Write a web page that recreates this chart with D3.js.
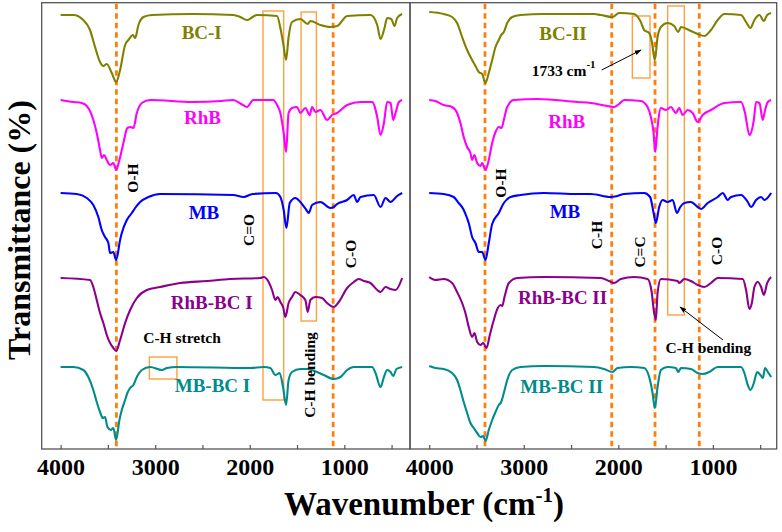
<!DOCTYPE html>
<html><head><meta charset="utf-8">
<script src="https://cdn.jsdelivr.net/npm/d3@7"></script>
<style>body{margin:0;background:#fff}</style>
</head><body>
<svg id="c" width="782" height="532"></svg>
<script>
// ---------- DATA (wavenumber cm-1, stacked transmittance a.u.) ----------
const bc1 = [[4000,434],[3865,434],[3760,429],[3689,419],[3636,402],[3583,387],[3548,383],[3512,385],[3459,376],[3413,367],[3371,379],[3318,404],[3283,409],[3236,414],[3212,411],[3177,424],[3124,432],[3035,434],[2600,435],[2174,434],[2100,432],[2029,429],[1970,432],[1923,434],[1711,433],[1676,421],[1645,405],[1616,389],[1589,412],[1553,427],[1465,430],[1387,425],[1359,428],[1253,424],[1147,422],[1076,423],[970,433],[723,434],[652,424],[617,410],[575,421],[547,431],[504,430],[469,423],[441,431],[388,435]];
const rhb1 = [[4000,349],[3865,347],[3776,346],[3707,341],[3654,329],[3618,316],[3583,299],[3565,291],[3540,294],[3512,289],[3477,284],[3442,286],[3413,279],[3378,289],[3336,306],[3294,321],[3258,322],[3230,321],[3194,336],[3141,346],[3053,349],[2600,347],[2300,348],[2174,349],[2090,345],[2029,342],[1962,349],[1750,349],[1711,344],[1676,336],[1641,316],[1616,297],[1589,336],[1553,341],[1500,342],[1465,336],[1412,341],[1366,334],[1341,342],[1306,337],[1253,339],[1182,329],[1129,334],[1076,336],[970,344],[829,347],[705,347],[652,332],[617,314],[581,326],[547,347],[511,346],[483,329],[458,336],[423,347],[388,349]];
const mb1 = [[4000,256],[3829,255],[3723,251],[3654,244],[3601,232],[3565,219],[3530,212],[3495,206],[3477,196],[3442,197],[3413,189],[3371,209],[3353,216],[3300,229],[3247,236],[3212,241],[3159,247],[3071,252],[2947,255],[2174,254],[2065,252],[1971,255],[1723,256],[1676,252],[1641,239],[1612,221],[1577,246],[1517,251],[1465,247],[1401,239],[1376,236],[1341,244],[1253,247],[1147,241],[1111,242],[1076,245],[970,249],[900,254],[864,247],[829,252],[688,254],[617,242],[564,251],[511,247],[441,253],[388,256]];
const rhbbc1 = [[4000,171],[3689,169],[3654,162],[3618,149],[3583,136],[3548,126],[3512,114],[3477,106],[3442,101],[3413,98],[3371,109],[3318,126],[3265,139],[3194,151],[3088,159],[2947,162],[2735,166],[2453,168],[2206,170],[1888,171],[1853,172],[1800,167],[1764,159],[1729,149],[1705,152],[1676,147],[1648,142],[1623,132],[1589,146],[1553,152],[1518,157],[1465,154],[1412,149],[1387,137],[1359,149],[1306,152],[1235,151],[1182,146],[1111,142],[1058,147],[970,161],[900,167],[847,170],[794,168],[723,166],[652,159],[617,157],[564,162],[511,160],[458,159],[388,171]];
const mbbc1 = [[4000,82],[3865,82],[3760,79],[3707,72],[3654,59],[3618,47],[3583,37],[3554,31],[3530,32],[3505,22],[3469,19],[3442,21],[3413,9],[3378,29],[3353,39],[3318,49],[3294,56],[3265,61],[3230,64],[3194,72],[3141,79],[3053,82],[2929,79],[2876,81],[2770,82],[1994,81],[1853,82],[1782,81],[1729,74],[1684,76],[1648,62],[1616,44],[1589,69],[1553,77],[1465,80],[1394,80],[1288,77],[1218,74],[1111,70],[1041,72],[970,79],[900,82],[705,82],[670,76],[617,62],[581,72],[547,79],[511,77],[483,73],[448,80],[388,82]];

const bc2 = [[4000,437],[3847,435],[3758,432],[3705,426],[3652,412],[3599,399],[3546,389],[3511,383],[3476,377],[3440,375],[3405,366],[3370,376],[3334,389],[3299,402],[3264,409],[3239,414],[3211,417],[3175,426],[3122,432],[3034,434],[2787,435],[2257,435],[2186,434],[2062,432],[1992,436],[1833,435],[1762,427],[1727,419],[1674,416],[1645,407],[1614,389],[1585,412],[1550,422],[1479,426],[1409,423],[1366,417],[1338,422],[1232,418],[1161,415],[1091,413],[1020,419],[949,429],[879,435],[702,434],[649,427],[603,421],[561,429],[508,434],[461,428],[426,434],[384,436]];
const rhb2 = [[4000,349],[3935,348],[3847,344],[3758,342],[3705,336],[3670,326],[3635,312],[3599,302],[3564,296],[3546,289],[3522,294],[3493,286],[3458,283],[3440,286],[3405,279],[3370,289],[3334,306],[3299,317],[3264,322],[3235,321],[3211,329],[3175,342],[3105,349],[2857,350],[2433,347],[2292,346],[2115,343],[2045,342],[1992,345],[1939,349],[1762,348],[1691,342],[1656,332],[1627,316],[1610,297],[1585,322],[1550,341],[1497,339],[1444,342],[1391,336],[1356,341],[1320,334],[1267,339],[1214,336],[1161,327],[1108,334],[1020,339],[879,346],[702,347],[660,336],[614,314],[567,329],[543,347],[508,346],[472,329],[448,339],[419,347],[384,349]];
const mb2 = [[4000,256],[3847,255],[3741,252],[3688,246],[3640,240],[3600,231],[3582,226],[3546,212],[3511,206],[3476,197],[3440,197],[3405,189],[3370,206],[3334,225],[3264,236],[3211,246],[3140,252],[3034,254],[2787,256],[2433,255],[2292,255],[2080,252],[2009,253],[1939,255],[1727,256],[1664,252],[1627,236],[1603,226],[1568,242],[1532,249],[1479,247],[1426,249],[1380,236],[1345,242],[1302,246],[1232,247],[1161,242],[1126,240],[1055,246],[949,252],[896,256],[843,249],[808,252],[702,254],[631,247],[596,242],[543,249],[490,252],[455,249],[384,256]];
const rhbbc2 = [[4000,172],[3935,169],[3847,170],[3758,166],[3705,157],[3652,146],[3617,136],[3582,122],[3546,112],[3522,116],[3493,107],[3458,104],[3429,106],[3394,101],[3359,114],[3317,129],[3275,141],[3246,144],[3228,143],[3204,152],[3158,166],[3069,171],[2787,172],[2186,171],[2098,168],[2045,166],[1974,170],[1833,172],[1691,170],[1649,158],[1621,136],[1603,129],[1585,156],[1550,170],[1373,168],[1356,166],[1302,170],[1232,168],[1161,164],[1091,162],[1020,166],[949,171],[684,170],[649,159],[614,140],[588,146],[561,162],[525,167],[490,162],[461,154],[426,166],[384,172]];
const mbbc2 = [[4000,83],[3935,81],[3847,80],[3758,76],[3705,69],[3670,59],[3635,47],[3599,36],[3564,26],[3529,21],[3493,16],[3458,12],[3429,13],[3405,8],[3370,19],[3334,29],[3299,37],[3264,44],[3239,47],[3211,56],[3175,69],[3122,79],[3034,82],[2787,83],[2257,82],[2151,80],[2062,77],[2009,81],[1868,82],[1727,81],[1674,72],[1638,56],[1614,41],[1585,62],[1550,79],[1479,82],[1391,81],[1366,77],[1338,81],[1232,80],[1161,76],[1108,75],[1038,77],[949,82],[702,82],[667,76],[631,64],[603,59],[567,66],[532,77],[497,74],[472,71],[448,81],[419,77],[384,72]];

const namesLeft  = ["BC-I","RhB","MB","RhB-BC I","MB-BC I"];
const namesRight = ["BC-II","RhB","MB","RhB-BC II","MB-BC II"];
// label anchor positions [wavenumber, a.u.]
const labelPosLeft  = [[2508,417],[2500,332],[2484,237],[2402,147],[2394,64]];
const labelPosRight = [[2585,416],[2546,328],[2564,238],[2590,152],[2599,63]];

const majorTicks = [4000,3000,2000,1000];
const minorTicks = [4000,3500,3000,2500,2000,1500,1000,500];

const dashedLeft  = [3410,1118];
const dashedRight = [3410,2070,1612,1144];
// boxes [wn1, wn2, top a.u., bottom a.u.]
const boxesLeft  = [[1860,1641,438,49],[1457,1295,437,128],[3061,2770,92,70]];
const boxesRight = [[1852,1665,433,371],[1478,1302,443,134]];
// notes [text, wn, a.u., rotated]
const notesLeft  = [["O-H",3240,271,true],["C=O",2015,219,true],["C-O",929,195,true],["C-H bending",1363,74,true],["C-H stretch",2716,111,false]];
const notesRight = [["O-H",3246,266,true],["C-H",2229,214,true],["C=C",1771,197,true],["C-O",960,198,true],["C-H bending",1048,101,false]];
// arrows [wn1,v1,wn2,v2]
const arrowsRight = [[2176,379,1760,399],[893,109,1348,142]];

// ---------- STYLE ----------
const colors = ["#808000","#ff00ff","#0000ff","#8b008b","#008b8b"];
const FONT = '"Liberation Serif","Times New Roman",Times,serif';
const svg = d3.select("#c");
const yTop = 2.7, yBot = 449;
const y = d3.scaleLinear().domain([0,446]).range([yBot, yTop+0.3]);

svg.append("defs").append("marker").attr("id","ah").attr("viewBox","0 0 10 10")
  .attr("refX",9).attr("refY",5).attr("markerWidth",7).attr("markerHeight",7)
  .attr("orient","auto").append("path").attr("d","M0,1.5L10,5L0,8.5z").attr("fill","#000");

const panels = [
  {x: d3.scaleLinear().domain([4200,300]).range([41.7,410.5]), x0:41.7, x1:410,
   series:[bc1,rhb1,mb1,rhbbc1,mbbc1], names:namesLeft, lpos:labelPosLeft,
   dashed:dashedLeft, boxes:boxesLeft, notes:notesLeft, arrows:[]},
  {x: d3.scaleLinear().domain([4200,322]).range([410.3,777]), x0:410, x1:776.7,
   series:[bc2,rhb2,mb2,rhbbc2,mbbc2], names:namesRight, lpos:labelPosRight,
   dashed:dashedRight, boxes:boxesRight, notes:notesRight, arrows:arrowsRight}
];

panels.forEach(p => {
  const g = svg.append("g");
  g.selectAll("rect.box").data(p.boxes).join("rect").attr("class","box")
    .attr("x", d => p.x(d[0])).attr("width", d => p.x(d[1]) - p.x(d[0]))
    .attr("y", d => y(d[2])).attr("height", d => y(d[3]) - y(d[2]))
    .attr("fill","none").attr("stroke","#ffa040").attr("stroke-width",1.4);
  g.selectAll("line.dash").data(p.dashed).join("line").attr("class","dash")
    .attr("x1", d => p.x(d)).attr("x2", d => p.x(d))
    .attr("y1", yTop+1).attr("y2", yBot)
    .attr("stroke","#ff7f0e").attr("stroke-width",2.8).attr("stroke-dasharray","5.5,4");
  const line = d3.line().x(d => p.x(d[0])).y(d => y(d[1])).curve(d3.curveMonotoneX);
  g.selectAll("path.spec").data(p.series).join("path").attr("class","spec")
    .attr("d", line).attr("fill","none")
    .attr("stroke", (d,i) => colors[i]).attr("stroke-width",2.1).attr("stroke-linejoin","round");
  g.selectAll("text.lab").data(p.names).join("text").attr("class","lab")
    .attr("x",(d,i) => p.x(p.lpos[i][0])).attr("y",(d,i) => y(p.lpos[i][1]))
    .attr("dy","0.35em").attr("text-anchor","middle")
    .attr("font-family",FONT).attr("font-weight","bold").attr("font-size",19)
    .attr("fill",(d,i) => colors[i]).text(d => d);
  p.notes.forEach(n => {
    const t = g.append("text").attr("text-anchor","middle").attr("dy","0.35em")
      .attr("font-family",FONT).attr("font-weight","bold").attr("font-size",15.5)
      .attr("fill","#000").text(n[0]);
    const px = p.x(n[1]), py = y(n[2]);
    if (n[3]) t.attr("transform",`translate(${px},${py}) rotate(-90)`);
    else t.attr("x",px).attr("y",py);
  });
  g.selectAll("line.arr").data(p.arrows).join("line").attr("class","arr")
    .attr("x1",d => p.x(d[0])).attr("y1",d => y(d[1]))
    .attr("x2",d => p.x(d[2])).attr("y2",d => y(d[3]))
    .attr("stroke","#000").attr("stroke-width",1).attr("marker-end","url(#ah)");
  const ax = d3.axisBottom(p.x).tickValues(minorTicks).tickSize(-4).tickPadding(9)
    .tickFormat(d => majorTicks.includes(d) ? d : "");
  const ag = svg.append("g").attr("transform",`translate(0,${yBot})`).call(ax);
  ag.select(".domain").remove();
  ag.selectAll(".tick line").attr("stroke","#555").attr("stroke-width",1.2);
  ag.selectAll(".tick text").attr("font-family",FONT).attr("font-weight","bold")
    .attr("font-size",24).attr("fill","#000");
  svg.append("rect").attr("x",p.x0).attr("y",yTop).attr("width",p.x1-p.x0).attr("height",yBot-yTop)
    .attr("fill","none").attr("stroke","#555").attr("stroke-width",1.3);
});

// 1733 cm-1 annotation
{
  const p = panels[1];
  const t = svg.append("text").attr("x",p.x(2916)).attr("y",y(373))
    .attr("font-family",FONT).attr("font-weight","bold").attr("font-size",15.5).attr("fill","#000");
  t.append("tspan").text("1733 cm");
  t.append("tspan").attr("dy",-8).attr("font-size",11).text("-1");
}

// axis titles
const xt = svg.append("text").attr("x",424).attr("y",515).attr("text-anchor","middle")
  .attr("font-family",FONT).attr("font-weight","bold").attr("font-size",33).attr("fill","#000");
xt.append("tspan").text("Wavenumber (cm");
xt.append("tspan").attr("dy",-13).attr("font-size",21).text("-1");
xt.append("tspan").attr("dy",13).text(")");

svg.append("text").attr("transform","translate(30,230) rotate(-90)").attr("text-anchor","middle")
  .attr("font-family",FONT).attr("font-weight","bold").attr("font-size",32).attr("fill","#000")
  .text("Transmittance (%)");
</script>
</body></html>
